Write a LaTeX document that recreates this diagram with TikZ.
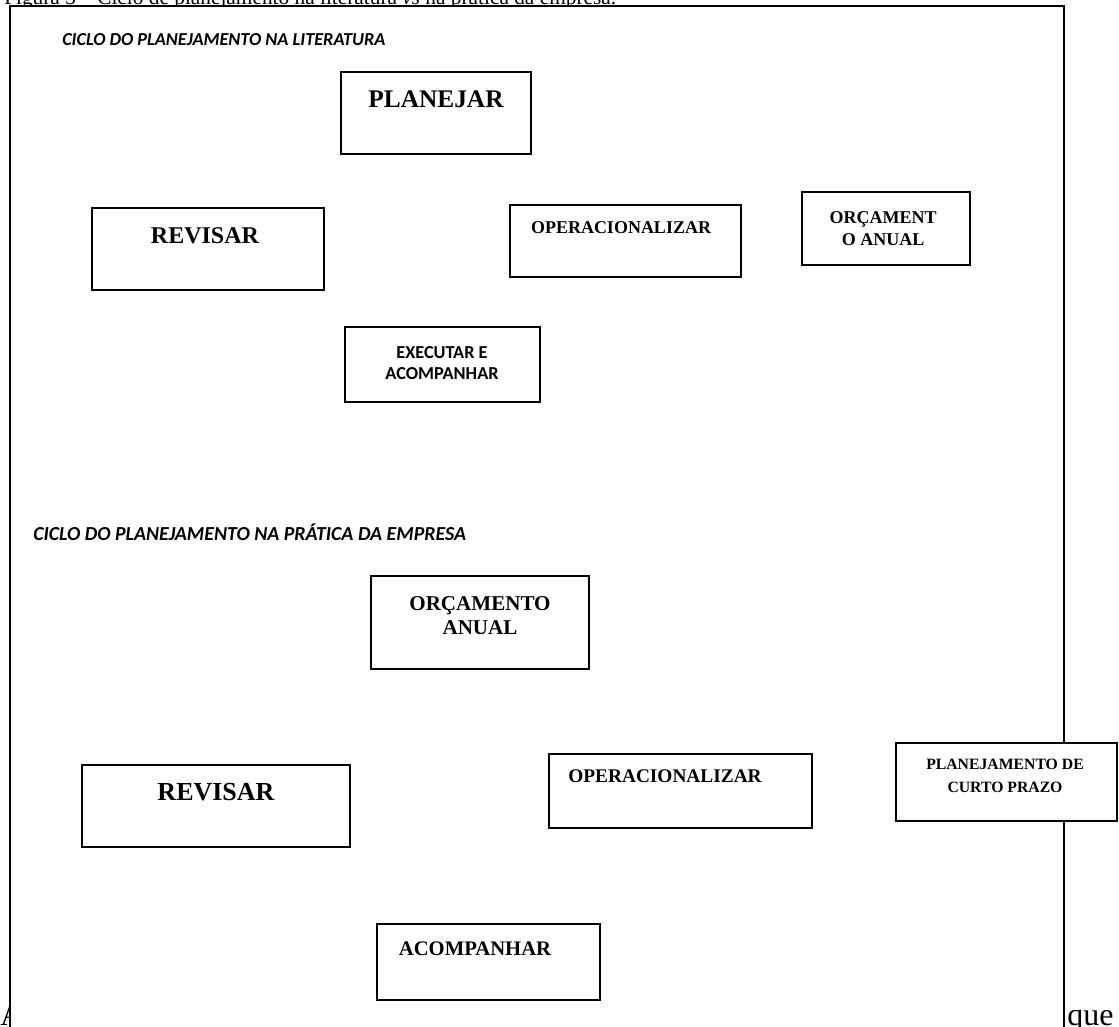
\documentclass[tikz,border=0pt]{standalone}
\usepackage{fontspec}
\setmainfont{Liberation Serif}
\newfontfamily\calib{Carlito}
\newcommand{\fs}[2]{\fontsize{#1}{#2}\selectfont}
\tikzset{
  box/.style={draw=black, line width=1.5pt, fill=white, rectangle, inner sep=0pt},
  txt/.style={inner sep=0pt, align=center, anchor=base},
  lab/.style={inner sep=0pt, anchor=base west},
}
\begin{document}
\begin{tikzpicture}[x=0.75pt,y=-0.75pt]
\useasboundingbox (0,0) rectangle (1119,1026);
% caption (cut off at top)
\node[lab, font=\fs{16}{19}] (cap) at (4,4) {Figura 3 -- Ciclo de planejamento na literatura \textit{vs} na prática da empresa.};
% following text line (mostly hidden behind the frame)
\node[lab, font=\fs{23}{26}] (ta) at (0,1025) {A};
\node[lab, font=\fs{24}{27}] (tque) at (1067,1025) {que};
% frame
\path[draw=black, line width=2pt, fill=white] (10,6) rectangle (1064,1200);
% section labels
\node[lab, font=\calib\bfseries\itshape\fs{13.7}{16}] (labA) at (62,45) {CICLO DO PLANEJAMENTO NA LITERATURA};
\node[lab, font=\calib\bfseries\itshape\fs{14.9}{17}] (labB) at (33,540) {CICLO DO PLANEJAMENTO NA PRÁTICA DA EMPRESA};
% top cycle boxes
\node[box, minimum width=142.5pt, minimum height=61.5pt] (planejar) at (436,113) {};
\node[box, minimum width=174pt, minimum height=61.5pt] (revisarA) at (208,249) {};
\node[box, minimum width=173.25pt, minimum height=54pt] (operA) at (625.5,241) {};
\node[box, minimum width=126pt, minimum height=54.75pt] (orcA) at (886,228.5) {};
\node[box, minimum width=146.25pt, minimum height=56.25pt] (execA) at (442.5,364.5) {};
% bottom cycle boxes
\node[box, minimum width=163.5pt, minimum height=69.75pt] (orcB) at (480,622.5) {};
\node[box, minimum width=201pt, minimum height=61.5pt] (revisarB) at (216,806) {};
\node[box, minimum width=197.25pt, minimum height=55.5pt] (operB) at (680.5,791) {};
\node[box, minimum width=165.75pt, minimum height=58.5pt] (curto) at (1006.5,782) {};
\node[box, minimum width=167.25pt, minimum height=57pt] (acomp) at (488.5,962) {};
% texts (anchor base = baseline of last line)
\node[txt, font=\bfseries\fs{19}{22}] (tplanejar) at (436,107) {PLANEJAR};
\node[txt, font=\bfseries\fs{18}{21}] (trevisarA) at (205,243) {REVISAR};
\node[txt, font=\bfseries\fs{13.5}{16}] (toperA) at (621,233) {OPERACIONALIZAR};
\node[txt, font=\bfseries\fs{13.5}{16.5}] (torcA) at (883,245) {ORÇAMENT\\O ANUAL};
\node[txt, font=\calib\bfseries\fs{13.7}{15.5}] (texecA) at (442,379) {EXECUTAR E\\ACOMPANHAR};
\node[txt, font=\bfseries\fs{15.8}{17.3}] (torcB) at (480,634) {ORÇAMENTO\\ANUAL};
\node[txt, font=\bfseries\fs{19.5}{22}] (trevisarB) at (216,800) {REVISAR};
\node[txt, font=\bfseries\fs{14.5}{17}] (toperB) at (665,782) {OPERACIONALIZAR};
\node[txt, font=\bfseries\fs{11.8}{17}] (tcurto) at (1005,792) {PLANEJAMENTO DE\\CURTO PRAZO};
\node[txt, font=\bfseries\fs{15.5}{18}] (tacomp) at (475,955) {ACOMPANHAR};
\end{tikzpicture}
\end{document}
